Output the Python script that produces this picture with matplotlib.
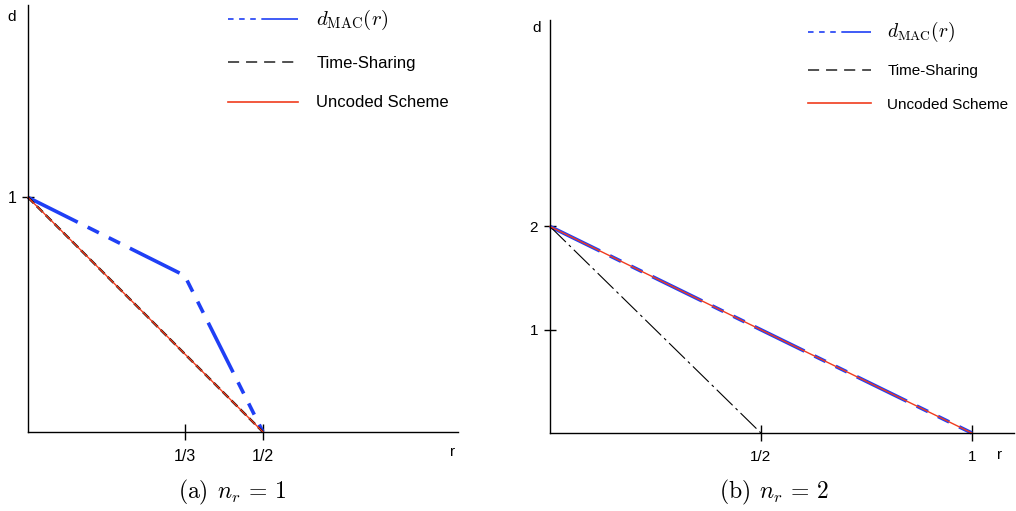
import matplotlib
matplotlib.use("Agg")
import matplotlib.pyplot as plt
from matplotlib.lines import Line2D

plt.rcParams['font.family'] = ['Liberation Sans', 'DejaVu Sans']
plt.rcParams['mathtext.fontset'] = 'cm'
plt.rcParams['lines.scale_dashes'] = False

# panel (a): n_r = 1
r_mac_a = [0, 1/3, 1/2]
d_mac_a = [1, 2/3, 0]
r_ts_a = [0, 1/2]
d_ts_a = [1, 0]
r_unc_a = [0, 1/2]
d_unc_a = [1, 0]
xticks_a = [1/3, 1/2]
xlabels_a = ["1/3", "1/2"]
yticks_a = [1]
ylabels_a = ["1"]

# panel (b): n_r = 2
r_mac_b = [0, 1]
d_mac_b = [2, 0]
r_ts_b = [0, 1/2]
d_ts_b = [2, 0]
r_unc_b = [0, 1]
d_unc_b = [2, 0]
xticks_b = [1/2, 1]
xlabels_b = ["1/2", "1"]
yticks_b = [1, 2]
ylabels_b = ["1", "2"]

labels = [r"$d_{\mathrm{MAC}}(r)$", "Time-Sharing", "Uncoded Scheme"]

blue = "#1f3ff5"
red = "#f03c1e"
mac_dash = (40, 8, 9, 8, 9, 8)

fig = plt.figure(figsize=(10.16, 5.11), dpi=100)
ax1 = fig.add_axes([28/1016, 79/511, 430/1016, 427/511])
ax2 = fig.add_axes([550/1016, 78/511, 464/1016, 413/511])


def style_axes(ax, xmax, ymax, xt, xl, yt, yl, fs):
    ax.set_xlim(0, xmax)
    ax.set_ylim(0, ymax)
    for s in ["top", "right"]:
        ax.spines[s].set_visible(False)
    for s in ["left", "bottom"]:
        ax.spines[s].set_linewidth(1.0)
    ax.set_xticks(xt)
    ax.set_xticklabels(xl)
    ax.set_yticks(yt)
    ax.set_yticklabels(yl)
    ax.tick_params(axis="x", direction="inout", length=12, width=1,
                   labelsize=fs, pad=6)
    ax.tick_params(axis="y", direction="inout", length=9, width=1,
                   labelsize=fs, pad=4)
    ax.patch.set_alpha(0)


# (a)
ax1.plot(r_mac_a, d_mac_a, color=blue, lw=2.6, dashes=mac_dash,
         solid_capstyle="butt", clip_on=False)
ax1.plot(r_ts_a, d_ts_a, color="black", lw=1.7, dashes=(6, 3),
         clip_on=False)
ax1.plot(r_unc_a, d_unc_a, color=red, lw=1.0, clip_on=False)
style_axes(ax1, 0.915, 1.82, xticks_a, xlabels_a, yticks_a, ylabels_a, 11.5)

# (b)
ax2.plot(r_mac_b, d_mac_b, color=blue, lw=2.6, dashes=mac_dash,
         clip_on=False)
ax2.plot(r_ts_b, d_ts_b, color="black", lw=0.8, dashes=(16, 3, 2, 3),
         clip_on=False)
ax2.plot(r_unc_b, d_unc_b, color=red, lw=1.0, clip_on=False)
style_axes(ax2, 1.1, 4.0, xticks_b, xlabels_b, yticks_b, ylabels_b, 11)

# legends
def legend_handles(lw):
    return [
        Line2D([], [], color=blue, lw=lw, dashes=(4, 4, 4, 4, 4, 4, 30, 2)),
        Line2D([], [], color="#333333", lw=lw, dashes=(8, 5)),
        Line2D([], [], color=red, lw=lw),
    ]


leg1 = fig.legend(legend_handles(1.2), labels, loc="upper left",
                  bbox_to_anchor=(228/1016, 1 - 8/511), frameon=False,
                  fontsize=12, handlelength=4.2, handletextpad=1.1,
                  labelspacing=1.45, borderpad=0, borderaxespad=0)
leg1.get_texts()[0].set_fontsize(15)

leg2 = fig.legend(legend_handles(1.2), labels, loc="upper left",
                  bbox_to_anchor=(808/1016, 1 - 20/511), frameon=False,
                  fontsize=11, handlelength=4.1, handletextpad=1.1,
                  labelspacing=1.3, borderpad=0, borderaxespad=0)
leg2.get_texts()[0].set_fontsize(14)

# axis letters
fig.text(12/1016, 1 - 17/511, "d", fontsize=11, ha="center", va="center")
fig.text(453/1016, 1 - 452/511, "r", fontsize=11, ha="center", va="center")
fig.text(537/1016, 1 - 28/511, "d", fontsize=11, ha="center", va="center")
fig.text(1000/1016, 1 - 455/511, "r", fontsize=11, ha="center", va="center")

# captions
fig.text(232/1016, 1 - 492/511, r"$\mathrm{(a)}\;\, n_r\, =\, 1$", fontsize=17,
         ha="center", va="center")
fig.text(774/1016, 1 - 492/511, r"$\mathrm{(b)}\;\, n_r\, =\, 2$", fontsize=17,
         ha="center", va="center")

fig.savefig("out.png", dpi=100)
